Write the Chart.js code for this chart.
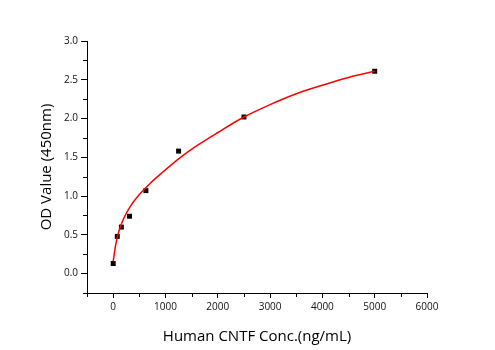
<!DOCTYPE html>
<html>
<head>
<meta charset="utf-8">
<script src="https://cdn.jsdelivr.net/npm/chart.js@4"></script>
<style>
  html, body { margin: 0; padding: 0; background: #fff; }
  #wrap { width: 495px; height: 350px; }
</style>
</head>
<body>
<div id="wrap"><canvas id="myChart" width="495" height="350"></canvas></div>
<script>
// measured standards
var conc = [0, 78, 156, 312, 625, 1250, 2500, 5000];
var od = [0.13, 0.48, 0.60, 0.74, 1.07, 1.58, 2.02, 2.61];

// fitted curve
var curveX = [0, 50, 110, 200, 330, 500, 700, 950, 1250, 1600, 2000, 2500, 3000, 3500, 4000, 4500, 5000];
var curveY = [0.16, 0.38, 0.55, 0.71, 0.87, 1.02, 1.16, 1.31, 1.48, 1.65, 1.82, 2.02, 2.18, 2.32, 2.43, 2.53, 2.61];

var xTicks = [0, 1000, 2000, 3000, 4000, 5000, 6000];
var xMinor = [-500, 500, 1500, 2500, 3500, 4500, 5500];
var yTicks = [0, 0.5, 1.0, 1.5, 2.0, 2.5, 3.0];
var yMinor = [-0.25, 0.25, 0.75, 1.25, 1.75, 2.25, 2.75];

var font = "'Open Sans', 'DejaVu Sans', sans-serif";

var minorTicks = {
  id: 'minorTicks',
  afterDraw: function (chart) {
    var c = chart.ctx, xs = chart.scales.x, ys = chart.scales.y;
    var a = chart.chartArea;
    c.save();
    c.strokeStyle = '#000';
    c.lineWidth = 1;
    c.beginPath();
    xMinor.forEach(function (v) {
      var px = Math.round(xs.getPixelForValue(v)) + 0.5;
      c.moveTo(px, a.bottom);
      c.lineTo(px, a.bottom + 4);
    });
    yMinor.forEach(function (v) {
      var py = Math.round(ys.getPixelForValue(v)) + 0.5;
      c.moveTo(a.left, py);
      c.lineTo(a.left - 4, py);
    });
    c.stroke();
    c.restore();
  }
};

var ctx = document.getElementById('myChart').getContext('2d');
var points = conc.map(function (x, i) { return { x: x, y: od[i] }; });
var curve = curveX.map(function (x, i) { return { x: x, y: curveY[i] }; });

var myChart = new Chart(ctx, {
  type: 'scatter',
  data: {
    datasets: [{
      label: 'fit',
      data: curve,
      showLine: true,
      borderColor: '#ff0000',
      borderWidth: 1.5,
      pointRadius: 0,
      cubicInterpolationMode: 'monotone',
      fill: false
    }, {
      label: 'OD',
      data: points,
      pointStyle: 'rect',
      pointRadius: 3.5,
      backgroundColor: '#000',
      borderColor: '#000',
      borderWidth: 0
    }]
  },
  options: {
    responsive: false,
    animation: false,
    layout: { padding: { top: 41, right: 68, bottom: 4, left: 38 } },
    plugins: {
      legend: { display: false },
      tooltip: { enabled: false }
    },
    scales: {
      x: {
        type: 'linear',
        min: -500,
        max: 6000,
        afterBuildTicks: function (s) { s.ticks = xTicks.map(function (v) { return { value: v }; }); },
        grid: { drawOnChartArea: false, drawTicks: true, tickLength: 5, color: '#000' },
        border: { display: true, color: '#000', width: 1 },
        ticks: { color: '#111', font: { family: font, size: 10 }, padding: 3, maxRotation: 0, callback: function (v) { return String(v); } },
        title: { display: true, text: 'Human CNTF Conc.(ng/mL)', color: '#000', font: { family: font, size: 15 }, padding: { top: 12, bottom: 0 } }
      },
      y: {
        type: 'linear',
        min: -0.25,
        max: 3.0,
        afterBuildTicks: function (s) { s.ticks = yTicks.map(function (v) { return { value: v }; }); },
        grid: { drawOnChartArea: false, drawTicks: true, tickLength: 6, color: '#000' },
        border: { display: true, color: '#000', width: 1 },
        ticks: { color: '#111', font: { family: font, size: 10 }, padding: 3, callback: function (v) { return v.toFixed(1); } },
        title: { display: true, text: 'OD Value (450nm)', color: '#000', font: { family: font, size: 15 }, padding: { top: 0, bottom: 5 } }
      }
    }
  },
  plugins: [minorTicks]
});
</script>
</body>
</html>
